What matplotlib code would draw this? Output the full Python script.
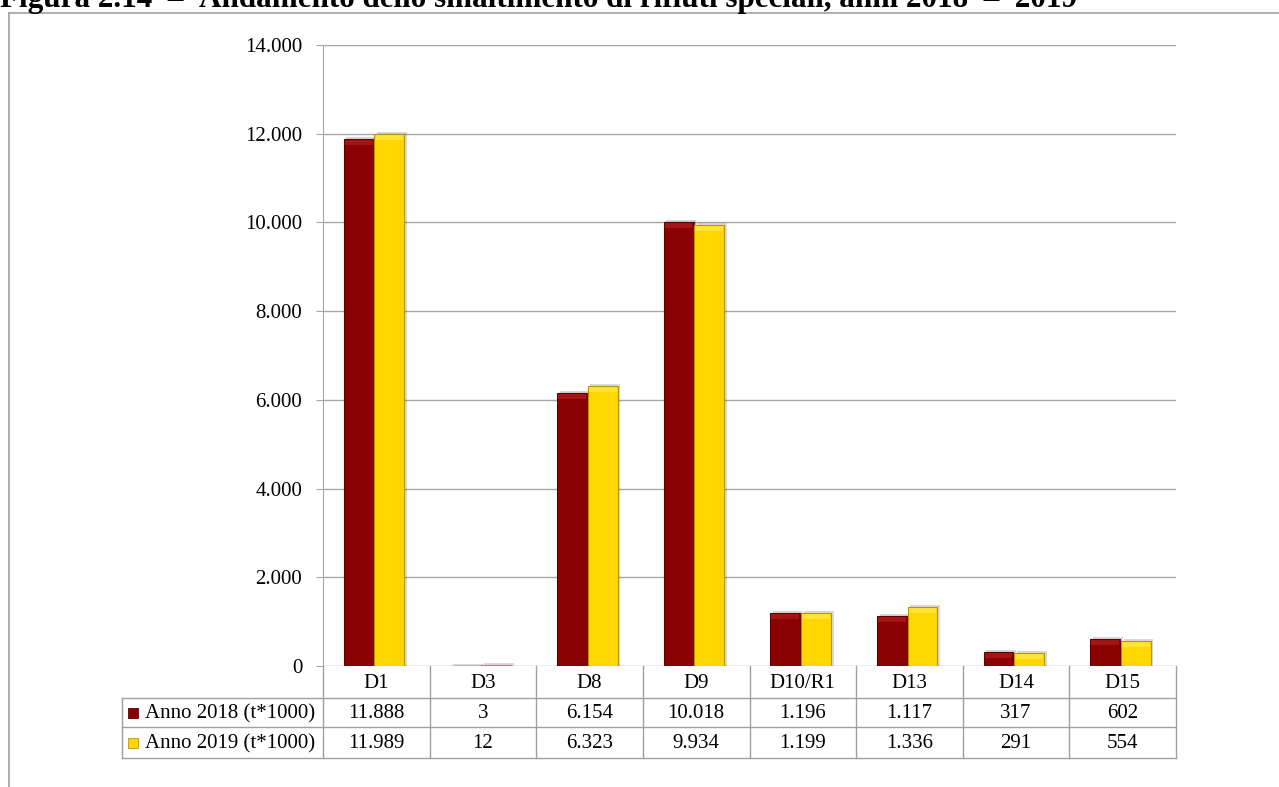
import matplotlib
matplotlib.use("Agg")
import matplotlib.pyplot as plt
from matplotlib.patches import Rectangle
from matplotlib.lines import Line2D
from matplotlib.ticker import FuncFormatter, MultipleLocator
import matplotlib.transforms as mtransforms

plt.rcParams['font.family'] = ['Liberation Serif', 'DejaVu Serif']

title = "Figura 2.14\u2002\u2013\u2002Andamento dello smaltimento di rifiuti speciali, anni 2018\u2002\u2013\u20022019"
categories = ["D1", "D3", "D8", "D9", "D10/R1", "D13", "D14", "D15"]
series_names = ["Anno 2018 (t*1000)", "Anno 2019 (t*1000)"]
values_2018 = [11888, 3, 6154, 10018, 1196, 1117, 317, 602]
values_2019 = [11989, 12, 6323, 9934, 1199, 1336, 291, 554]

W, H = 1279, 787
fig = plt.figure(figsize=(W / 100, H / 100), dpi=100)

def fx(px):
    return px / W

def fy(py):
    return 1 - py / H

ax_l, ax_r, ax_t, ax_b = 323, 1176, 45, 666
ax = fig.add_axes([fx(ax_l), fy(ax_b), fx(ax_r - ax_l), (ax_b - ax_t) / H])
ax_h_px = ax_b - ax_t

grid_c = "#a6a6a6"
colors = ["#8b0000", "#ffd700"]
edge_c = ["#5c0000", "#b89406"]
hi_c = ["#c4302f", "#fff27a"]

fs = 15

ax.set_xlim(-0.5, len(categories) - 0.5)
ax.set_ylim(0, 14000)
ax.yaxis.set_major_locator(MultipleLocator(2000))
ax.yaxis.set_major_formatter(FuncFormatter(lambda v, p: f"{int(v):,}".replace(",", ".")))
ax.set_xticks([])
ax.grid(axis="y", color=grid_c, linewidth=1)
ax.set_axisbelow(True)
for s in ["top", "right", "bottom"]:
    ax.spines[s].set_visible(False)
ax.spines["left"].set_color(grid_c)
ax.tick_params(axis="y", length=5, color=grid_c, labelsize=fs, pad=10)

bw = 0.28
offs = [-0.165, 0.123]
units_per_px = 14000 / ax_h_px
for si, vals in enumerate([values_2018, values_2019]):
    for i, v in enumerate(vals):
        x0 = i + offs[si] - bw / 2
        # shadow
        ax.add_patch(Rectangle((x0 + 0.025, 0), bw, v + 2 * units_per_px if v > 0 else 0,
                               facecolor="#000000", alpha=0.15, edgecolor="none", zorder=2))
        ax.bar(i + offs[si], v, width=bw, color=colors[si], edgecolor=edge_c[si],
               linewidth=0.8, zorder=3)
        hh = min(v, 6 * units_per_px)
        if v > 3 * units_per_px:
            ax.add_patch(Rectangle((x0 + 0.01, v - hh), bw - 0.02, hh - units_per_px,
                                   facecolor=hi_c[si], edgecolor="none", alpha=0.45, zorder=4))

# Table below
tc = "#a0a0a0"
row_edges_px = [666, 698, 727, 758]
def ya(py):
    return (ax_b - py) / ax_h_px
trans = mtransforms.blended_transform_factory(ax.transData, ax.transAxes)
n = len(categories)
tab_left_px = 122
for k, py in enumerate(row_edges_px):
    if k == 0:
        continue
    fig.add_artist(Line2D([fx(tab_left_px), fx(ax_r)], [fy(py), fy(py)], color=tc, lw=1))
for j in range(n + 1):
    xp = ax_l + j * (ax_r - ax_l) / n
    fig.add_artist(Line2D([fx(xp), fx(xp)], [fy(666), fy(758)], color=tc, lw=1))
fig.add_artist(Line2D([fx(tab_left_px), fx(tab_left_px)], [fy(698), fy(758)], color=tc, lw=1))

for i, c in enumerate(categories):
    ax.text(i, ya((666 + 698) / 2 + 2), c, transform=trans, ha="center", va="center",
            fontsize=fs, clip_on=False)
for r, vals in enumerate([values_2018, values_2019]):
    yc = ya((row_edges_px[r + 1] + row_edges_px[r + 2]) / 2 + 1)
    for i, v in enumerate(vals):
        ax.text(i, yc, f"{v:,}".replace(",", "."), transform=trans, ha="center",
                va="center", fontsize=fs, clip_on=False)
    ycf = fy((row_edges_px[r + 1] + row_edges_px[r + 2]) / 2 + 1)
    fig.text(fx(145), ycf, series_names[r], ha="left", va="center", fontsize=fs)
    sq = fy((row_edges_px[r + 1] + row_edges_px[r + 2]) / 2)
    fig.add_artist(Rectangle((fx(128), sq - 5 / H), 10 / W, 10 / H,
                             facecolor=colors[r], edgecolor=edge_c[r], lw=0.6))

# Outer frame
fig.add_artist(Line2D([fx(9), fx(W)], [fy(13), fy(13)], color="#a0a0a0", lw=1.2))
fig.add_artist(Line2D([fx(9), fx(9)], [fy(13), fy(H)], color="#a0a0a0", lw=1.2))

# Title (cut off at top, as in the reference)
fig.text(fx(0), fy(7), title, ha="left", va="baseline", fontsize=22.4,
         fontweight="bold")

fig.savefig("out.png", dpi=100)
